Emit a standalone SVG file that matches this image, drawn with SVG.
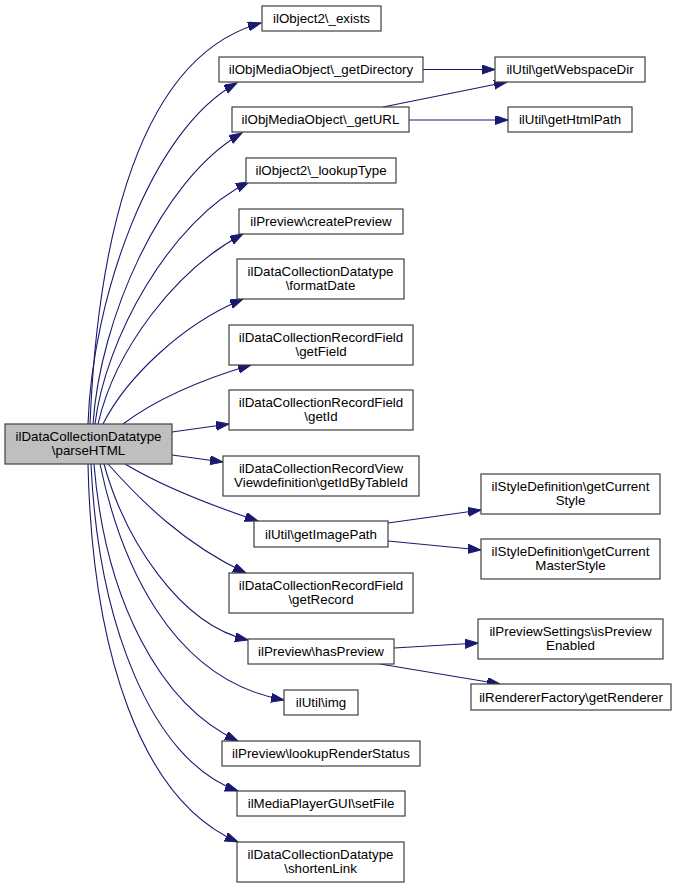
<svg xmlns="http://www.w3.org/2000/svg" width="676" height="889" viewBox="0 0 676 889">
<style>
.n rect{fill:#ffffff;stroke:#404040;stroke-width:1.2}
.n.m rect{fill:#bfbfbf}
.n text{font-family:"Liberation Sans",Arial,Helvetica,sans-serif;font-size:13.33px;fill:#000;text-anchor:middle}
.e path{fill:none;stroke:#191970;stroke-width:1.1;marker-end:url(#ah)}
</style>
<defs>
<marker id="ah" markerUnits="userSpaceOnUse" markerWidth="14" markerHeight="10" refX="13" refY="4.5" orient="auto">
<path d="M0,0 L13,4.5 L0,9 z" fill="#191970" stroke="#191970" stroke-width="1"/>
</marker>
</defs>
<rect x="0" y="0" width="676" height="889" fill="#ffffff"/>
<g id="edges" class="e">
<path d="M90,424 C96,280 125,60 261,23"/>
<path d="M88,424 C92,300 150,130 237,83"/>
<path d="M93,424 C100,320 160,180 242,133"/>
<path d="M95,424 C105,340 170,220 249,182"/>
<path d="M98,424 C115,350 175,270 243,234"/>
<path d="M103,424 C125,380 180,325 243,299"/>
<path d="M123,424 C155,400 200,380 251,365"/>
<path d="M172,432 L229,424"/>
<path d="M172,455 L223,462"/>
<path d="M125,464 C160,485 210,505 258,521"/>
<path d="M108,464 C140,500 185,545 246,573"/>
<path d="M104,464 C125,540 180,625 248,640"/>
<path d="M100,464 C120,560 170,680 284,700"/>
<path d="M94,464 C105,600 160,705 238,741"/>
<path d="M91,464 C98,620 150,760 238,791"/>
<path d="M88,464 C92,650 140,800 238,842"/>
<path d="M423,69.5 L495,69.5"/>
<path d="M383,107 L507,82"/>
<path d="M409,120 L508,120"/>
<path d="M388,523 L481,510"/>
<path d="M388,541 L481,550"/>
<path d="M394,648 L478,643"/>
<path d="M380,664 L500,684"/>
</g>
<g id="parseHTML" class="n m"><rect x="5" y="424" width="167" height="40"/><text x="88.5" y="440.5">ilDataCollectionDatatype</text><text x="88.5" y="454.5">\parseHTML</text></g>
<g id="exists" class="n"><rect x="262" y="6" width="119" height="25"/><text x="321.5" y="23">ilObject2\_exists</text></g>
<g id="getDirectory" class="n"><rect x="219" y="57" width="204" height="25"/><text x="321" y="74">ilObjMediaObject\_getDirectory</text></g>
<g id="getURL" class="n"><rect x="232" y="107" width="177" height="25"/><text x="320.5" y="124">ilObjMediaObject\_getURL</text></g>
<g id="lookupType" class="n"><rect x="246" y="158" width="150" height="25"/><text x="321" y="175">ilObject2\_lookupType</text></g>
<g id="createPreview" class="n"><rect x="239" y="209" width="164" height="25"/><text x="321" y="226">ilPreview\createPreview</text></g>
<g id="formatDate" class="n"><rect x="237" y="259" width="167" height="40"/><text x="320.5" y="275.5">ilDataCollectionDatatype</text><text x="320.5" y="289.5">\formatDate</text></g>
<g id="getField" class="n"><rect x="229" y="325" width="184" height="40"/><text x="321" y="341.5">ilDataCollectionRecordField</text><text x="321" y="355.5">\getField</text></g>
<g id="getId" class="n"><rect x="229" y="390" width="184" height="40"/><text x="321" y="406.5">ilDataCollectionRecordField</text><text x="321" y="420.5">\getId</text></g>
<g id="getIdByTableId" class="n"><rect x="223" y="456" width="196" height="40"/><text x="321" y="472.5">ilDataCollectionRecordView</text><text x="321" y="486.5">Viewdefinition\getIdByTableId</text></g>
<g id="getImagePath" class="n"><rect x="254" y="521" width="134" height="26"/><text x="321" y="538.5">ilUtil\getImagePath</text></g>
<g id="getRecord" class="n"><rect x="229" y="573" width="184" height="40"/><text x="321" y="589.5">ilDataCollectionRecordField</text><text x="321" y="603.5">\getRecord</text></g>
<g id="hasPreview" class="n"><rect x="248" y="639" width="146" height="25"/><text x="321" y="656">ilPreview\hasPreview</text></g>
<g id="img" class="n"><rect x="284" y="690" width="74" height="25"/><text x="321" y="707">ilUtil\img</text></g>
<g id="lookupRenderStatus" class="n"><rect x="222" y="741" width="198" height="25"/><text x="321" y="758">ilPreview\lookupRenderStatus</text></g>
<g id="setFile" class="n"><rect x="237" y="791" width="168" height="25"/><text x="321" y="808">ilMediaPlayerGUI\setFile</text></g>
<g id="shortenLink" class="n"><rect x="237" y="842" width="167" height="40"/><text x="320.5" y="858.5">ilDataCollectionDatatype</text><text x="320.5" y="872.5">\shortenLink</text></g>
<g id="getWebspaceDir" class="n"><rect x="495" y="57" width="150" height="25"/><text x="570" y="74">ilUtil\getWebspaceDir</text></g>
<g id="getHtmlPath" class="n"><rect x="508" y="107" width="124" height="25"/><text x="570" y="124">ilUtil\getHtmlPath</text></g>
<g id="getCurrentStyle" class="n"><rect x="481" y="474" width="179" height="40"/><text x="570.5" y="490.5">ilStyleDefinition\getCurrent</text><text x="570.5" y="504.5">Style</text></g>
<g id="getCurrentMasterStyle" class="n"><rect x="481" y="539" width="179" height="40"/><text x="570.5" y="555.5">ilStyleDefinition\getCurrent</text><text x="570.5" y="569.5">MasterStyle</text></g>
<g id="isPreviewEnabled" class="n"><rect x="478" y="619" width="185" height="40"/><text x="570.5" y="635.5">ilPreviewSettings\isPreview</text><text x="570.5" y="649.5">Enabled</text></g>
<g id="getRenderer" class="n"><rect x="471" y="684" width="200" height="26"/><text x="571" y="701.5">ilRendererFactory\getRenderer</text></g>
</svg>
